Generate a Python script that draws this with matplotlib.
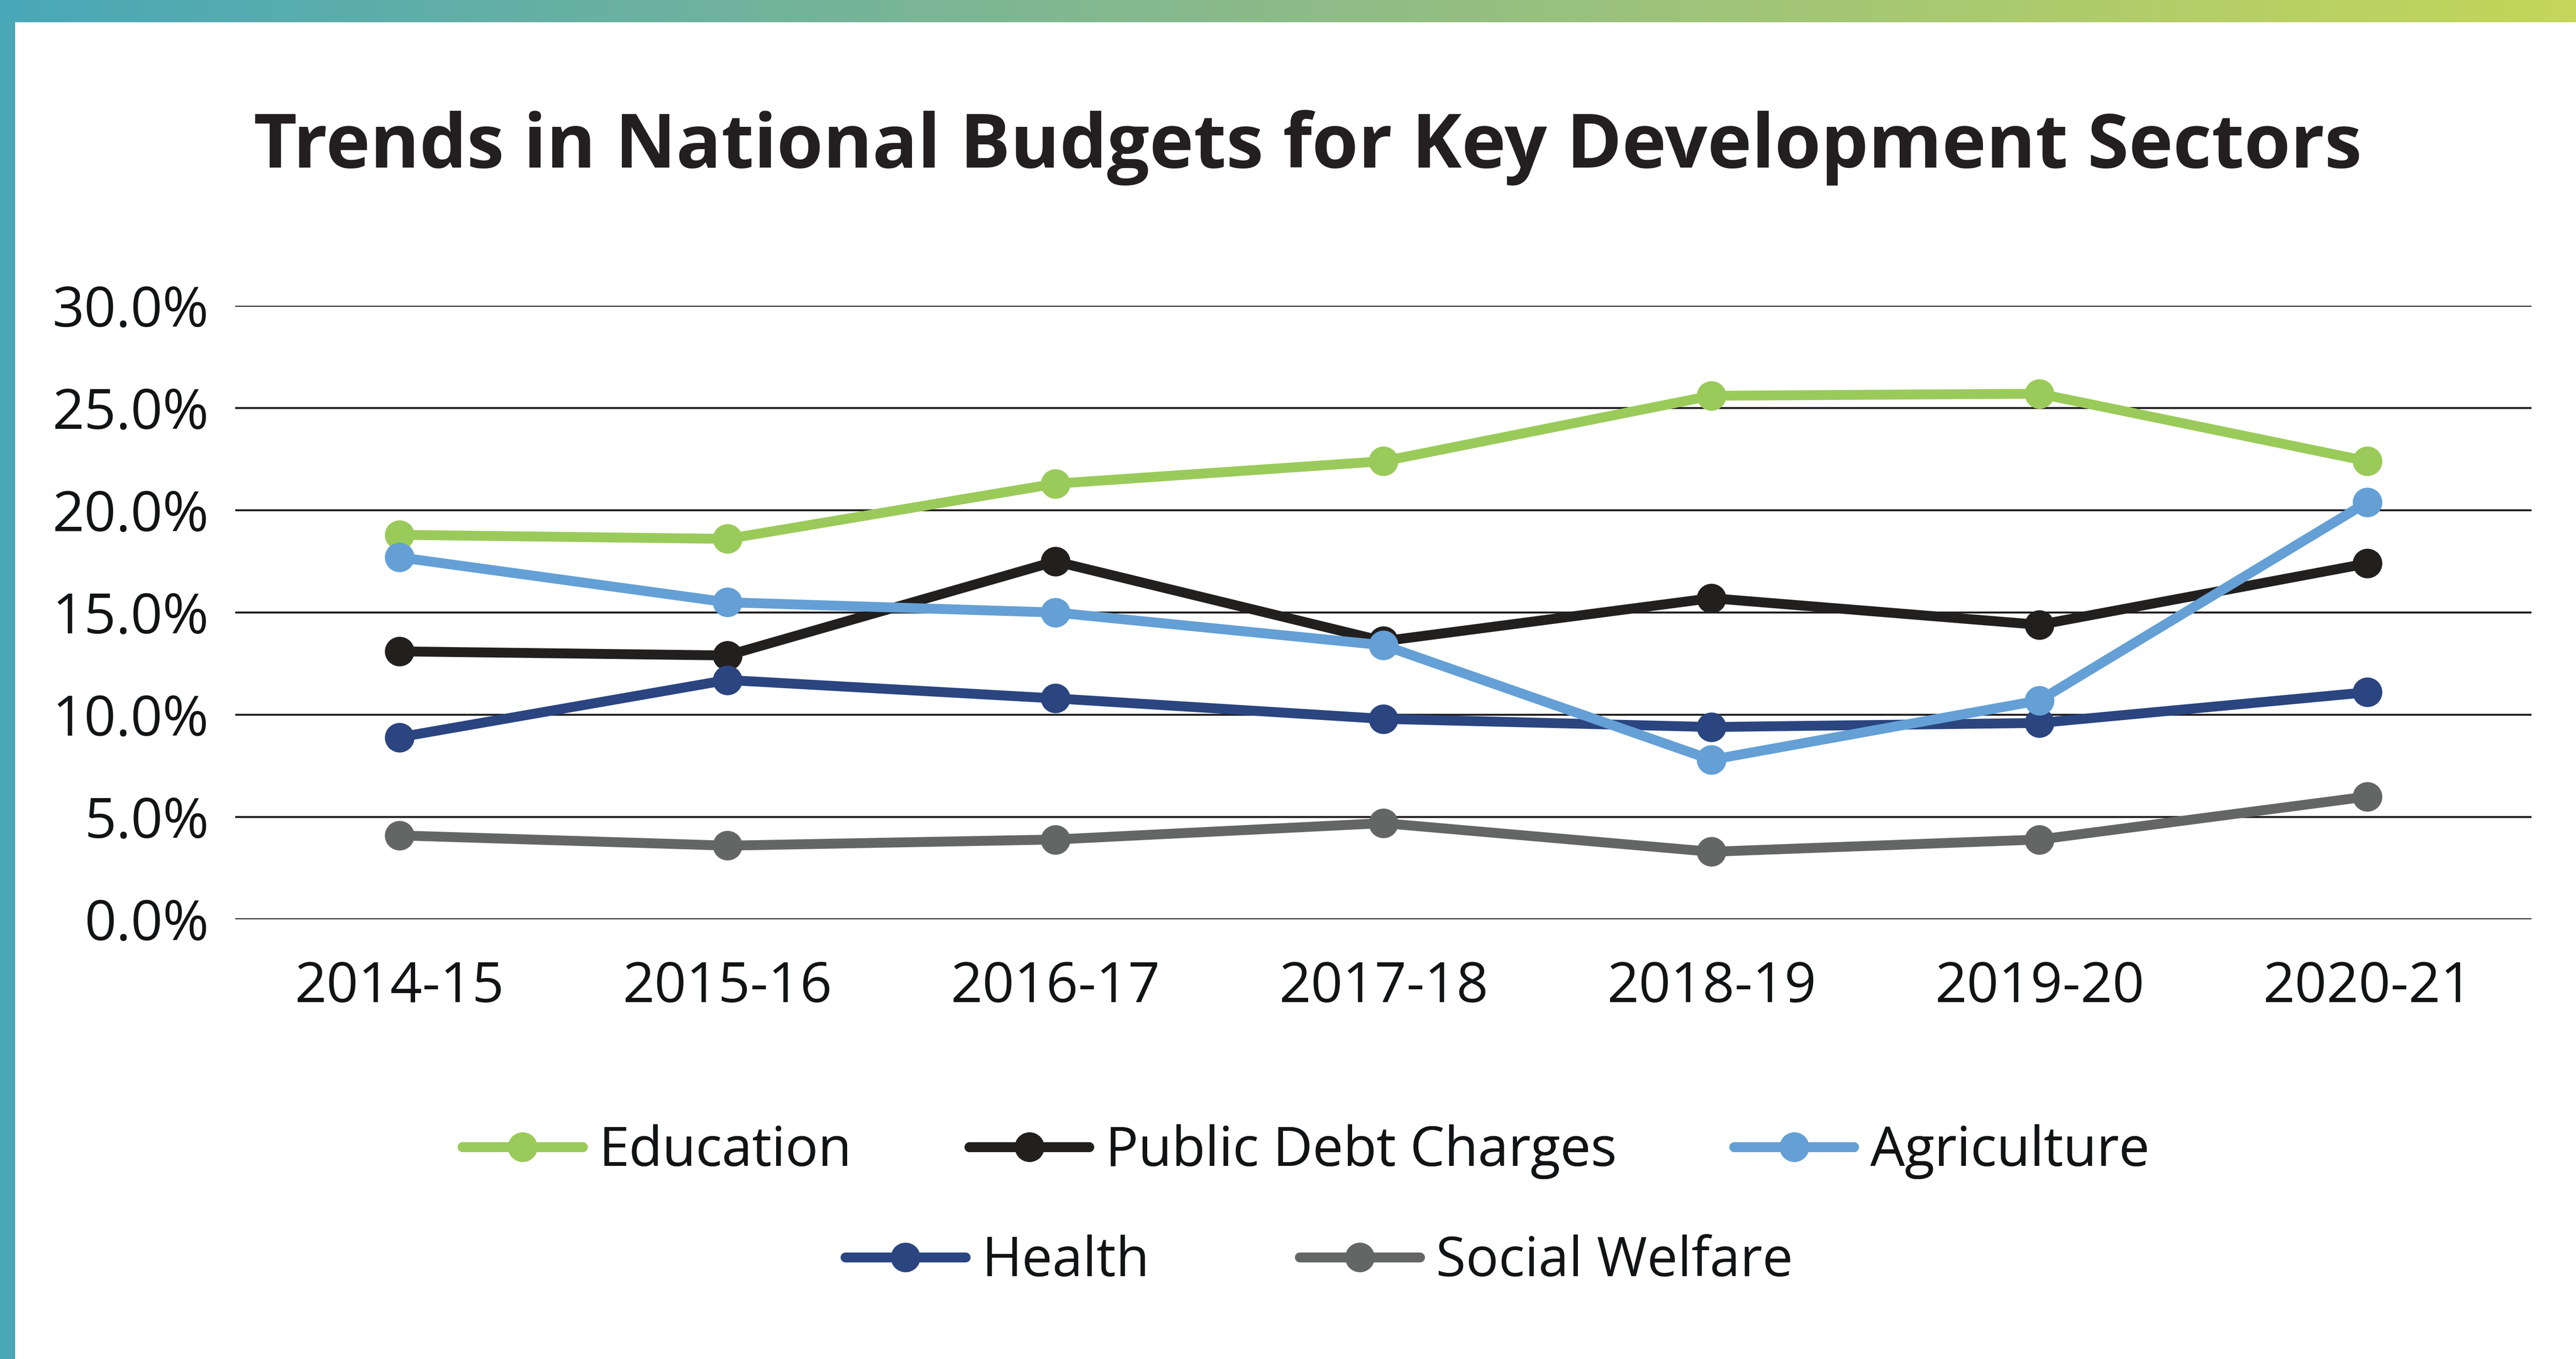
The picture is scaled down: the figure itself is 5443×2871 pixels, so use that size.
import numpy as np
import matplotlib.pyplot as plt
from matplotlib.colors import LinearSegmentedColormap

years = ['2014-15', '2015-16', '2016-17', '2017-18', '2018-19', '2019-20', '2020-21']
education = [18.8, 18.6, 21.3, 22.4, 25.6, 25.7, 22.4]
public_debt = [13.1, 12.9, 17.5, 13.6, 15.7, 14.4, 17.4]
agriculture = [17.7, 15.5, 15.0, 13.4, 7.8, 10.7, 20.4]
health = [8.9, 11.7, 10.8, 9.8, 9.4, 9.6, 11.1]
social_welfare = [4.1, 3.6, 3.9, 4.7, 3.3, 3.9, 6.0]

W, H = 5443, 2871
plt.rcParams['font.family'] = ['Open Sans', 'DejaVu Sans']
fig = plt.figure(figsize=(W / 100, H / 100), dpi=100)
fig.patch.set_facecolor('white')

# decorative gradient band on top and a teal strip on the left
cmap = LinearSegmentedColormap.from_list('band', ['#49a8b8', '#8dbb89', '#c4d65a'])
band = fig.add_axes([0, 1 - 47 / H, 1, 47 / H])
band.imshow(np.linspace(0, 1, 512)[None, :], aspect='auto', cmap=cmap)
band.axis('off')
fig.patches.append(plt.Rectangle((0, 0), 32 / W, 1 - 47 / H, transform=fig.transFigure,
                                 facecolor='#4aa8b6', edgecolor='none'))

ax = fig.add_axes([497 / W, 1 - 1942 / H, (5349 - 497) / W, (1942 - 646) / H])
x = np.arange(len(years))
series = [
    ('Education', education, '#9acb5a', 2),
    ('Public Debt Charges', public_debt, '#221f1f', 3),
    ('Agriculture', agriculture, '#64a0d5', 5),
    ('Health', health, '#2a4580', 4),
    ('Social Welfare', social_welfare, '#646665', 4),
]
handles = {}
for name, vals, col, z in series:
    ln, = ax.plot(x, vals, color=col, lw=15, marker='o', ms=44, zorder=z,
                  solid_capstyle='round', label=name)
    handles[name] = ln

ax.set_xlim(-0.5, 6.5)
ax.set_ylim(0, 30)
ax.set_yticks(np.arange(0, 31, 5))
ax.set_yticklabels(['%.1f%%' % v for v in np.arange(0, 31, 5)])
ax.set_xticks(x)
ax.set_xticklabels(years)
ax.grid(axis='y', color='#231f20', lw=3.0, zorder=1)
ax.set_axisbelow(True)
for s in ax.spines.values():
    s.set_visible(False)
ax.tick_params(axis='both', length=0, labelsize=85, colors='#111314')
ax.tick_params(axis='y', pad=40)
ax.tick_params(axis='x', pad=62)

fig.text(796 / 1568, 1 - 312 / H, 'Trends in National Budgets for Key Development Sectors',
         ha='center', va='center', fontsize=114, fontweight='bold', color='#231f20')

leg_kw = dict(frameon=False, fontsize=83, handlelength=2.2, handletextpad=0.3,
              loc='center', labelcolor='#111314')
leg1 = fig.legend([handles[n] for n in ['Education', 'Public Debt Charges', 'Agriculture']],
                  ['Education', 'Public Debt Charges', 'Agriculture'], ncol=3,
                  columnspacing=2.15, bbox_to_anchor=(795 / 1568, 1 - 2433 / H), **leg_kw)
leg2 = fig.legend([handles[n] for n in ['Health', 'Social Welfare']],
                  ['Health', 'Social Welfare'], ncol=2,
                  columnspacing=2.75, bbox_to_anchor=(803 / 1568, 1 - 2666 / H), **leg_kw)
fig.add_artist(leg1)

fig.savefig('out.png', dpi=100)
